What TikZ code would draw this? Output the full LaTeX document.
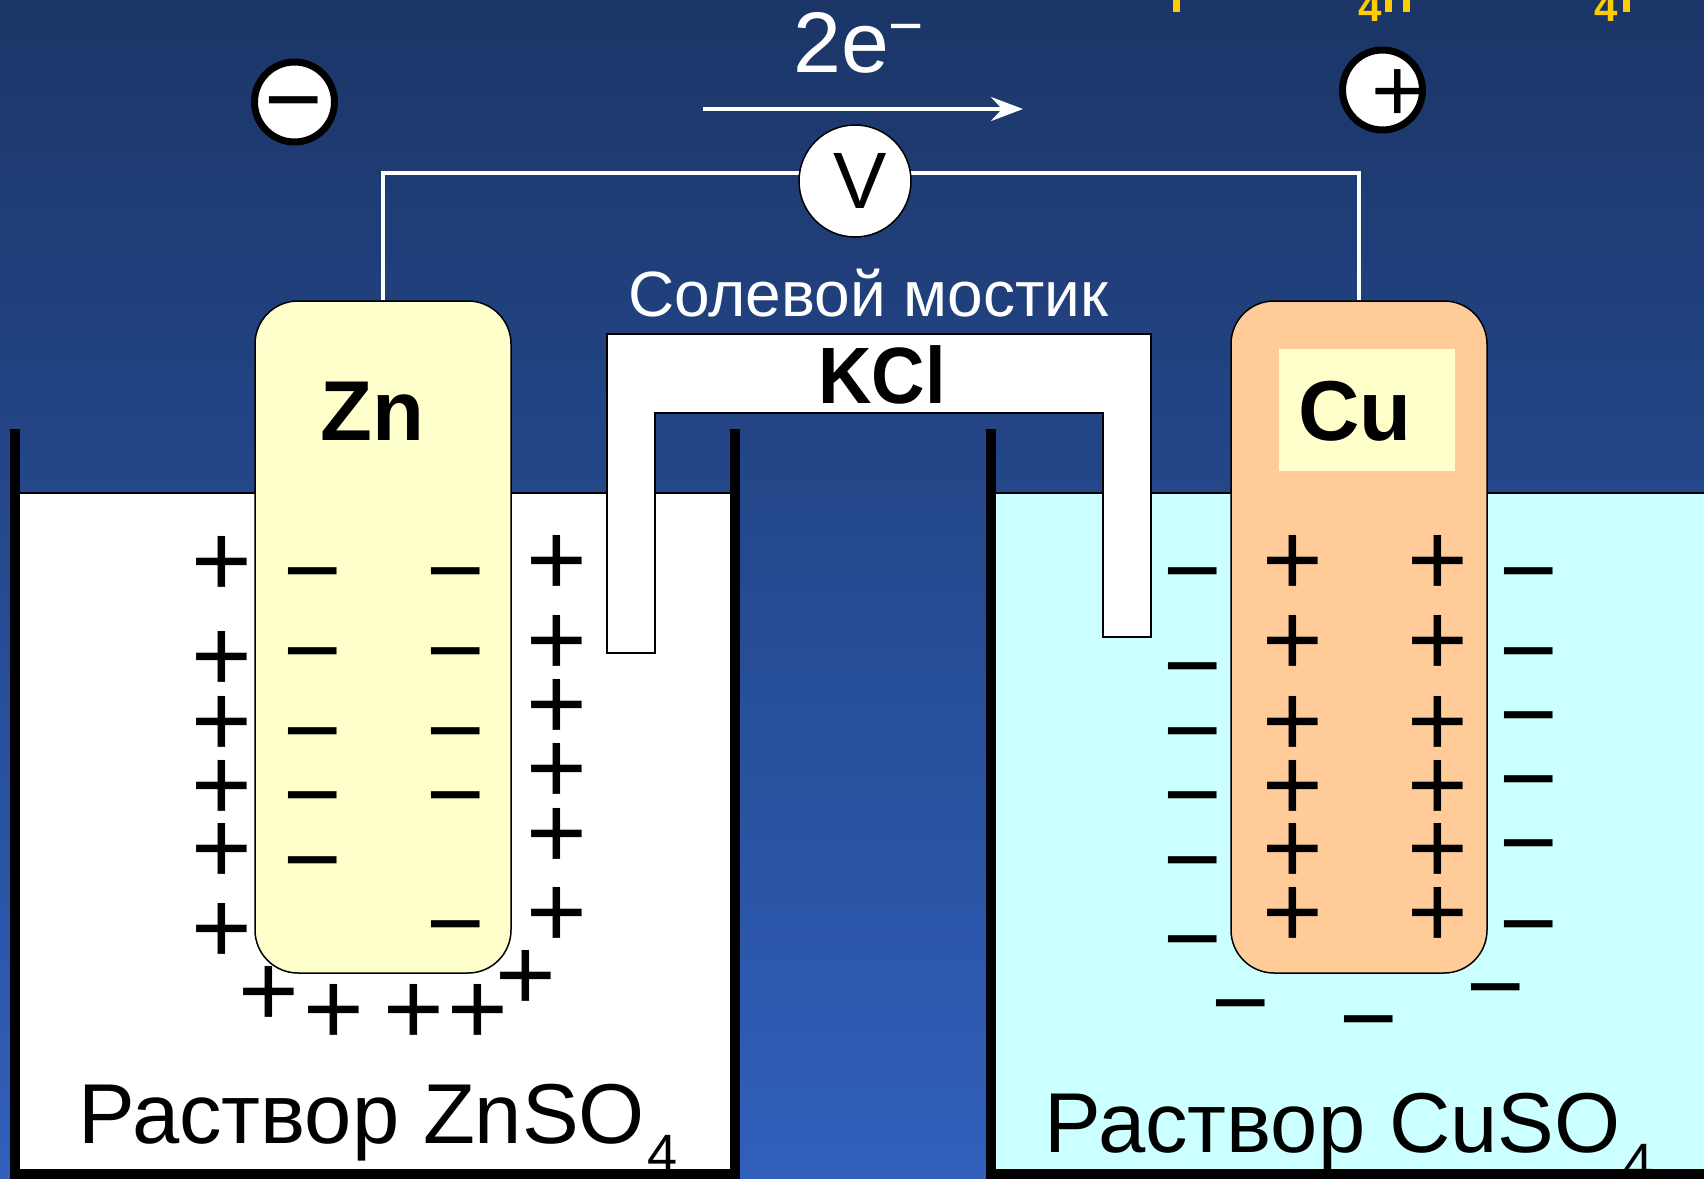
\documentclass[tikz,border=0pt]{standalone}
\usepackage{fontspec}
\setmainfont{Liberation Sans}
\usetikzlibrary{arrows.meta,shapes.geometric}
\definecolor{navytop}{HTML}{1B3567}
\definecolor{navybot}{HTML}{3060BC}
\definecolor{znfill}{HTML}{FFFFCC}
\definecolor{cufill}{HTML}{FFCC99}
\definecolor{culiquid}{HTML}{CCFFFF}
\definecolor{clipyellow}{HTML}{FFCC00}
\tikzset{
  electrode/.style={draw=black,line width=1.5pt,rounded corners=43pt,minimum width=256pt,minimum height=672pt,inner sep=0pt},
  wire/.style={draw=white,line width=3.5pt},
  wall/.style={draw=black,line width=10pt},
  surface/.style={draw=black,line width=1.2pt},
  ionplus/.style={inner sep=0pt,yshift=-3pt,xshift=1pt,font=\fontsize{104}{104}\selectfont},
  ionminus/.style={inner sep=0pt,yshift=-16pt,font=\fontsize{100}{100}\selectfont},
  signcirc/.style={circle,draw=black,fill=white,line width=7pt,minimum size=80pt,inner sep=0pt},
  metal/.style={anchor=base west,inner sep=0pt,font=\bfseries\fontsize{85}{85}\selectfont},
  solution/.style={anchor=base west,inner sep=0pt,font=\fontsize{85}{85}\selectfont},
  cliptext/.style={anchor=base west,inner sep=0pt,text=clipyellow,font=\bfseries\fontsize{42}{42}\selectfont},
  clipbar/.style={draw=clipyellow,line width=7pt}
}
\begin{document}
\begin{tikzpicture}[x=1pt,y=-1pt]
  \useasboundingbox (0,0) rectangle (1704,1178);
  \clip (0,0) rectangle (1704,1178);
  \shade[top color=navytop,bottom color=navybot] (0,0) rectangle (1704,1178);

  % solutions
  \fill[white] (15,493) rectangle (735,1174);
  \fill[culiquid] (991,493) rectangle (1704,1174);
  \draw[surface] (15,493) -- (735,493);
  \draw[surface] (991,493) -- (1704,493);
  \node[solution] (znsol) at (78,1143) {Раствор ZnSO\hspace{2pt}\raisebox{-29pt}{\fontsize{54}{54}\selectfont 4}};
  \node[solution] (cusol) at (1044,1152) {Раствор CuSO\hspace{3pt}\raisebox{-29pt}{\fontsize{54}{54}\selectfont 4}};

  % beakers
  \draw[wall] (15,429) -- (15,1174) -- (735,1174) -- (735,429);
  \draw[wall] (991,429) -- (991,1174) -- (1712,1174);

  % salt bridge
  \draw[fill=white,line width=1.5pt] (607,334) -- (1151,334) -- (1151,637) -- (1103,637) -- (1103,413)
    -- (655,413) -- (655,653) -- (607,653) -- cycle;
  \node[anchor=base west,inner sep=0pt,font=\bfseries\fontsize{74}{74}\selectfont] (kcl) at (818,403) {\scalebox{1}[1.08]{KCl}};
  \node[anchor=base west,inner sep=0pt,text=white,font=\fontsize{64}{64}\selectfont] (bridge) at (628,316) {Солевой мостик};

  % electrodes
  \node[electrode,fill=znfill] (zn) at (383,637) {};
  \node[electrode,fill=cufill] (cu) at (1359,637) {};
  \fill[znfill] (1279,349) rectangle (1455,471);
  \node[metal] (znlabel) at (320,440) {Zn};
  \node[metal] (culabel) at (1298,440) {Cu};

  % external circuit
  \coordinate (wirejoin) at (855,173);
  \draw[wire] (zn.north) |- (wirejoin) -| (cu.north);
  \node[circle,draw=black,fill=white,line width=1.5pt,minimum size=112pt,inner sep=0pt,font=\fontsize{80}{80}\selectfont] (volt) at (855,181) {\hspace*{10pt}V};
  \coordinate (flowa) at (703,109);
  \coordinate (flowb) at (1023,109);
  \draw[white,line width=4pt,-{Stealth[length=32pt,width=24pt,inset=11pt]}] (flowa) -- (flowb);
  \node[anchor=base west,inner sep=0pt,text=white,font=\fontsize{86}{86}\selectfont] (elec) at (793,72) {2e\textsuperscript{\raisebox{16pt}{−}}};

  % terminals
  \node[signcirc] (negterm) at (294.5,102) {};
  \node[signcirc] (posterm) at (1382.5,90) {};
  \node[ionminus] (negsign) at (294,99) {−};
  \node[ionplus,font=\fontsize{90}{90}\selectfont] (possign) at (1396.5,92.5) {+};

  % Zn side charges
  \foreach \y in {563,658,723,787,850,930} \node[ionplus] (za\y) at (221,\y) {+};
  \foreach \y in {570,650,730,794,859} \node[ionminus] (zb\y) at (313,\y) {−};
  \foreach \y in {570,650,730,794,923} \node[ionminus] (zc\y) at (456,\y) {−};
  \foreach \y in {562,642,706,770,835,914} \node[ionplus] (zd\y) at (556,\y) {+};
  \foreach \x/\y in {268/993,333/1011,413/1011,477/1011,525/977} \node[ionplus] (ze\x) at (\x,\y) {+};

  % Cu side charges
  \foreach \y in {570,665,730,794,859,938} \node[ionminus] (ca\y) at (1193,\y) {−};
  \foreach \y in {562,642,723,787,850,914} \node[ionplus] (cb\y) at (1292,\y) {+};
  \foreach \y in {562,642,723,787,850,914} \node[ionplus] (cc\y) at (1437,\y) {+};
  \foreach \y in {570,650,714,778,842,923} \node[ionminus] (cd\y) at (1529,\y) {−};
  \foreach \x/\y in {1241/1002,1369/1018,1496/986} \node[ionminus] (ce\x) at (\x,\y) {−};

  % cropped yellow line at the top edge
  \node[cliptext] (clipa) at (1358,21) {4};
  \node[cliptext] (clipb) at (1594,21) {4};
  \draw[clipbar] (1176,0) -- (1176,12);
  \draw[clipbar] (1388,0) -- (1388,12);
  \draw[clipbar] (1406,0) -- (1406,12);
  \draw[clipbar] (1626,0) -- (1626,12);
\end{tikzpicture}
\end{document}
